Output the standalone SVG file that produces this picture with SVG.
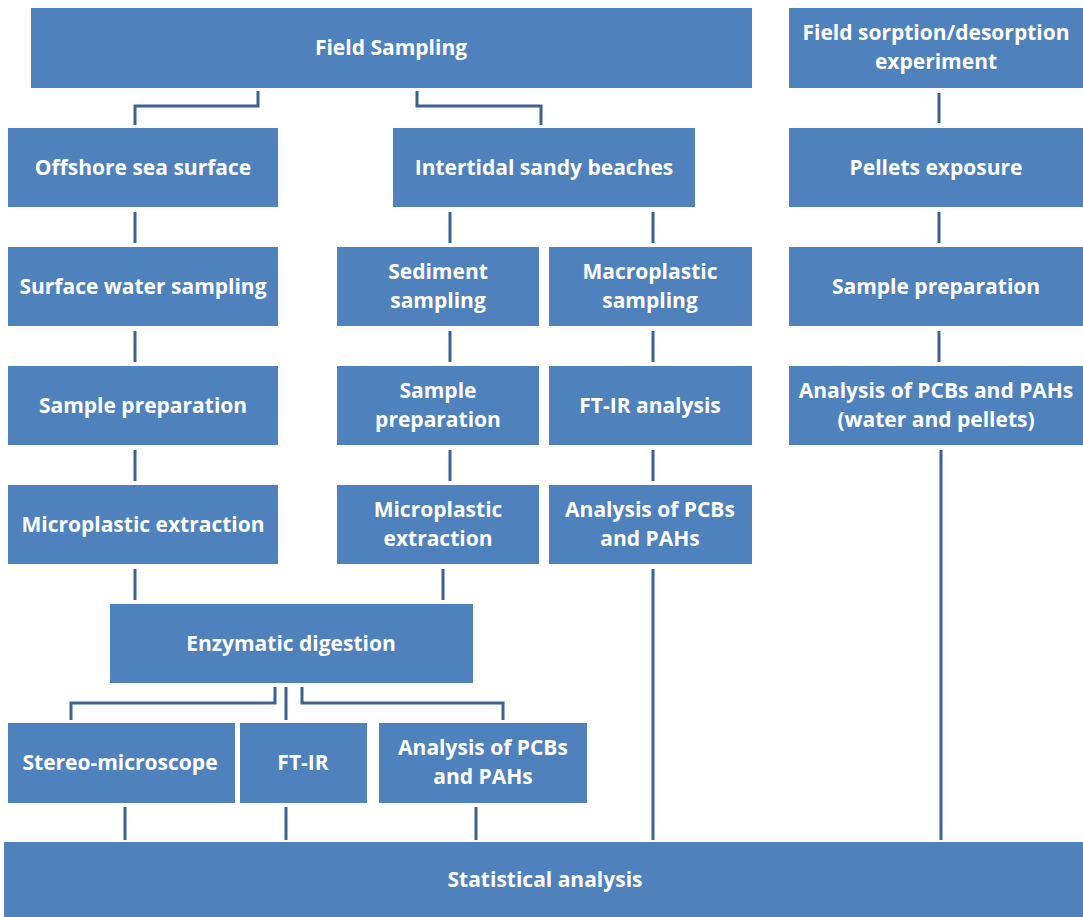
<svg xmlns="http://www.w3.org/2000/svg" width="1083" height="917" viewBox="0 0 1083 917">
<style>
.box{fill:#4f81bd}
.t{font-family:"Open Sans","Liberation Sans",sans-serif;font-weight:bold;font-size:21px;fill:#ffffff;text-anchor:middle}
.c{fill:none;stroke:#3e6290;stroke-width:3}
</style>
<rect x="0" y="0" width="1083" height="917" fill="#ffffff"/>
<g id="connectors">
<path class="c" d="M258,91 V106 H135 V125"/>
<path class="c" d="M417,91 V106 H541 V125"/>
<path class="c" d="M939,93 V123"/>
<path class="c" d="M135,212 V243"/>
<path class="c" d="M450,212 V243"/>
<path class="c" d="M653,212 V243"/>
<path class="c" d="M939,212 V243"/>
<path class="c" d="M135,331 V362"/>
<path class="c" d="M450,331 V362"/>
<path class="c" d="M653,331 V362"/>
<path class="c" d="M939,331 V362"/>
<path class="c" d="M135,450 V481"/>
<path class="c" d="M450,450 V481"/>
<path class="c" d="M653,450 V481"/>
<path class="c" d="M941,450 V840"/>
<path class="c" d="M135,569 V600"/>
<path class="c" d="M443,569 V600"/>
<path class="c" d="M653,569 V840"/>
<path class="c" d="M275,687 V703 H71 V720"/>
<path class="c" d="M286,687 V720"/>
<path class="c" d="M302,687 V703 H503 V720"/>
<path class="c" d="M125,807 V840"/>
<path class="c" d="M286,807 V840"/>
<path class="c" d="M476,807 V840"/>
</g>
<g id="field-sampling"><rect class="box" x="31" y="8" width="721" height="80"/><text class="t" x="391" y="55">Field Sampling</text></g>
<g id="field-sorption"><rect class="box" x="789" y="8" width="294" height="80"/><text class="t" x="936" y="40">Field sorption/desorption</text><text class="t" x="936" y="69">experiment</text></g>
<g id="offshore"><rect class="box" x="8" y="128" width="270" height="79"/><text class="t" x="143" y="175">Offshore sea surface</text></g>
<g id="intertidal"><rect class="box" x="393" y="128" width="302" height="79"/><text class="t" x="544" y="175">Intertidal sandy beaches</text></g>
<g id="pellets-exposure"><rect class="box" x="789" y="128" width="294" height="79"/><text class="t" x="936" y="175">Pellets exposure</text></g>
<g id="surface-water"><rect class="box" x="8" y="247" width="270" height="79"/><text class="t" x="143" y="294">Surface water sampling</text></g>
<g id="sediment-sampling"><rect class="box" x="337" y="247" width="202" height="79"/><text class="t" x="438" y="279">Sediment</text><text class="t" x="438" y="308">sampling</text></g>
<g id="macroplastic-sampling"><rect class="box" x="549" y="247" width="203" height="79"/><text class="t" x="650" y="279">Macroplastic</text><text class="t" x="650" y="308">sampling</text></g>
<g id="sample-prep-right"><rect class="box" x="789" y="247" width="294" height="79"/><text class="t" x="936" y="294">Sample preparation</text></g>
<g id="sample-prep-left"><rect class="box" x="8" y="366" width="270" height="79"/><text class="t" x="143" y="413">Sample preparation</text></g>
<g id="sample-prep-mid"><rect class="box" x="337" y="366" width="202" height="79"/><text class="t" x="438" y="398">Sample</text><text class="t" x="438" y="427">preparation</text></g>
<g id="ftir-analysis"><rect class="box" x="549" y="366" width="203" height="79"/><text class="t" x="650" y="413">FT-IR analysis</text></g>
<g id="analysis-water-pellets"><rect class="box" x="789" y="366" width="294" height="79"/><text class="t" x="936" y="398">Analysis of PCBs and PAHs</text><text class="t" x="936" y="427">(water and pellets)</text></g>
<g id="microplastic-extraction-left"><rect class="box" x="8" y="485" width="270" height="79"/><text class="t" x="143" y="532">Microplastic extraction</text></g>
<g id="microplastic-extraction-mid"><rect class="box" x="337" y="485" width="202" height="79"/><text class="t" x="438" y="517">Microplastic</text><text class="t" x="438" y="546">extraction</text></g>
<g id="analysis-macro"><rect class="box" x="549" y="485" width="203" height="79"/><text class="t" x="650" y="517">Analysis of PCBs</text><text class="t" x="650" y="546">and PAHs</text></g>
<g id="enzymatic-digestion"><rect class="box" x="110" y="604" width="363" height="79"/><text class="t" x="291" y="651">Enzymatic digestion</text></g>
<g id="stereo-microscope"><rect class="box" x="8" y="723" width="227" height="80"/><text class="t" x="120" y="770">Stereo-microscope</text></g>
<g id="ftir"><rect class="box" x="240" y="723" width="127" height="80"/><text class="t" x="303" y="770">FT-IR</text></g>
<g id="analysis-micro"><rect class="box" x="379" y="723" width="208" height="80"/><text class="t" x="483" y="755">Analysis of PCBs</text><text class="t" x="483" y="784">and PAHs</text></g>
<g id="statistical-analysis"><rect class="box" x="4" y="842" width="1079" height="75"/><text class="t" x="545" y="887">Statistical analysis</text></g>
</svg>
